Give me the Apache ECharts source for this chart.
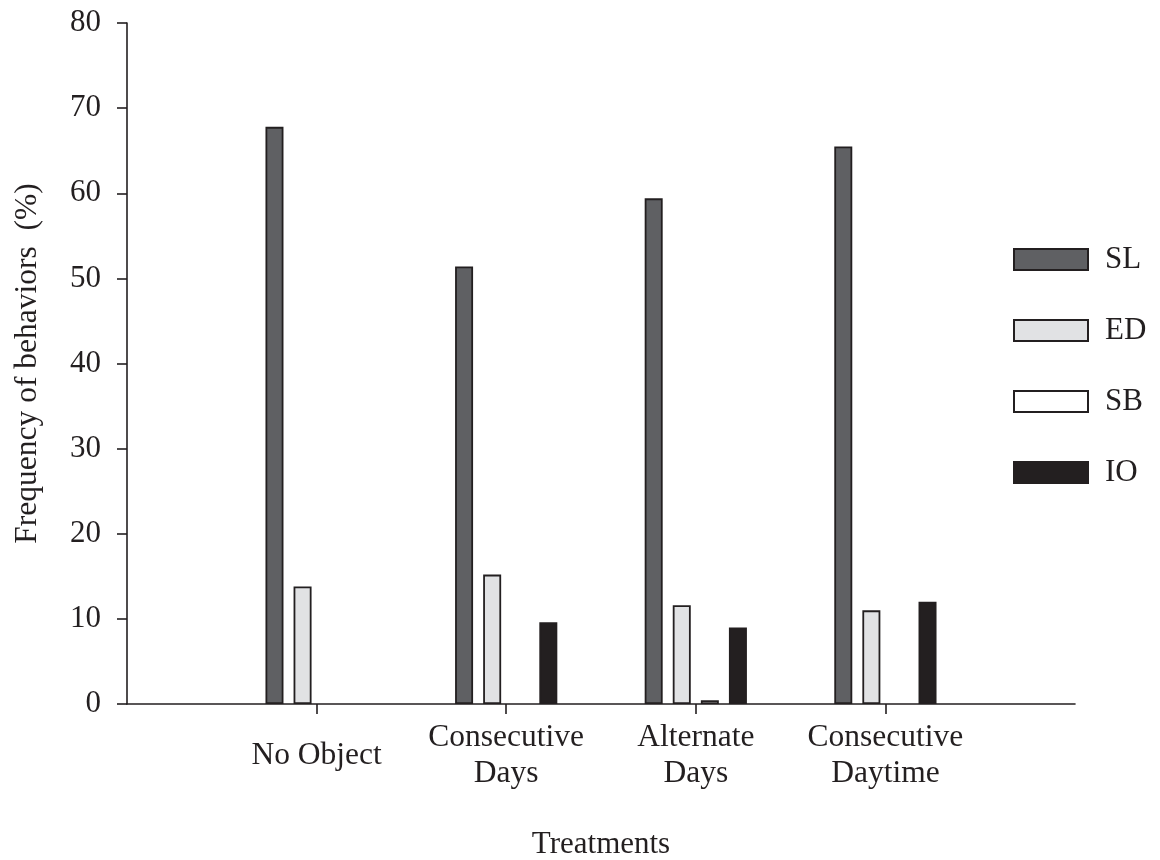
<!DOCTYPE html>
<html>
<head>
<meta charset="utf-8">
<title>Frequency of behaviors by treatment</title>
<script src="https://cdn.jsdelivr.net/npm/echarts@6/dist/echarts.min.js"></script>
<style>
  html, body { margin: 0; padding: 0; background: #ffffff; }
  #chart { width: 1160px; height: 860px; }
</style>
</head>
<body>
<div id="chart"></div>
<script>
// Treatments (empty entries pad the axis on both sides)
const categories = ['', 'No Object', 'Consecutive\nDays', 'Alternate\nDays', 'Consecutive\nDaytime', ''];

// Frequency of each behavior (%) per treatment
const slValues = [null, 67.8, 51.4, 59.4, 65.5, null];
const edValues = [null, 13.8, 15.2, 11.6, 11.0, null];
const sbValues = [null, null, null, 0.45, null, null];
const ioValues = [null, null, 9.6, 9.0, 12.0, null];

const yTicks = [0, 10, 20, 30, 40, 50, 60, 70, 80];

const FONT = '"Liberation Serif", "DejaVu Serif", serif';
const INK = '#231f20';

function barSeries(name, data, fill) {
  return {
    name: name,
    type: 'bar',
    data: data,
    barWidth: 18,
    barGap: '56%',
    itemStyle: { color: fill, borderColor: INK, borderWidth: 1.8 }
  };
}

const chart = echarts.init(document.getElementById('chart'));
chart.setOption({
  animation: false,
  backgroundColor: '#ffffff',
  textStyle: { fontFamily: FONT, color: INK },
  grid: {
    left: 127, right: 85, top: 23, bottom: 156,
    containLabel: false,
    outerBoundsMode: 'none'
  },
  legend: {
    orient: 'vertical',
    left: 1013,
    top: 244,
    padding: 0,
    itemWidth: 74,
    itemHeight: 21,
    itemGap: 40,
    icon: 'rect',
    textStyle: { fontFamily: FONT, fontSize: 31, lineHeight: 30, color: INK, padding: [0, 0, 0, 12] },
    data: ['SL', 'ED', 'SB', 'IO']
  },
  xAxis: {
    type: 'category',
    data: categories,
    boundaryGap: false,
    name: 'Treatments',
    nameLocation: 'middle',
    nameGap: 141,
    nameTextStyle: { fontFamily: FONT, fontSize: 31, color: INK, verticalAlign: 'middle' },
    axisLine: { lineStyle: { color: INK, width: 1.6 } },
    axisTick: {
      alignWithLabel: true,
      length: 10,
      lineStyle: { color: INK, width: 1.6 },
      interval: function (index, value) { return value !== ''; }
    },
    axisLabel: {
      interval: 0,
      margin: 52,
      fontFamily: FONT,
      fontSize: 31.5,
      lineHeight: 36,
      color: INK,
      align: 'center',
      verticalAlign: 'middle'
    },
    splitLine: { show: false }
  },
  yAxis: {
    type: 'value',
    min: yTicks[0],
    max: yTicks[yTicks.length - 1],
    interval: 10,
    name: 'Frequency of behaviors  (%)',
    nameLocation: 'middle',
    nameGap: 99,
    nameRotate: 90,
    nameTextStyle: { fontFamily: FONT, fontSize: 31.5, color: INK, verticalAlign: 'middle' },
    axisLine: { show: true, lineStyle: { color: INK, width: 1.6 } },
    axisTick: { show: true, length: 10, lineStyle: { color: INK, width: 1.6 } },
    axisLabel: { margin: 26, fontFamily: FONT, fontSize: 31, color: INK },
    splitLine: { show: false }
  },
  series: [
    barSeries('SL', slValues, '#5f6063'),
    barSeries('ED', edValues, '#e1e2e4'),
    barSeries('SB', sbValues, '#ffffff'),
    barSeries('IO', ioValues, INK)
  ]
});
</script>
</body>
</html>
